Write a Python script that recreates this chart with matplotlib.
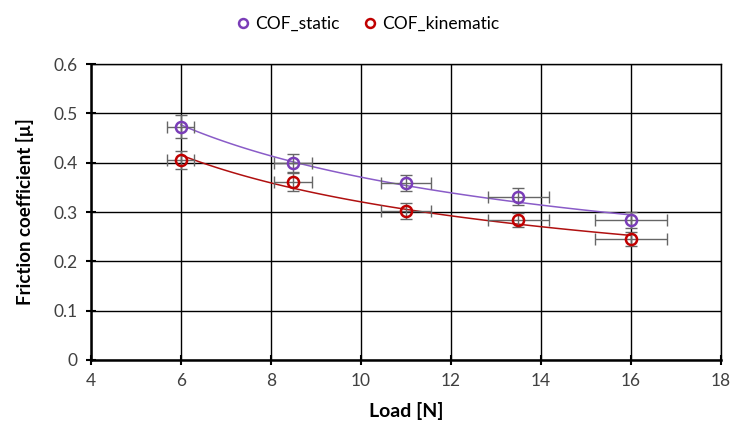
import matplotlib.pyplot as plt
import numpy as np

plt.rcParams['font.family'] = ['Lato', 'DejaVu Sans']

# Data
load = [6, 8.5, 11, 13.5, 16]
cof_static = [0.473, 0.400, 0.359, 0.331, 0.284]
cof_kinematic = [0.406, 0.361, 0.302, 0.284, 0.245]
static_yerr = [0.023, 0.018, 0.016, 0.017, 0.016]
kinematic_yerr = [0.018, 0.018, 0.016, 0.015, 0.014]
load_xerr = [0.3, 0.42, 0.55, 0.67, 0.8]

purple = '#7A3DB8'
red = '#C00000'

fig = plt.figure(figsize=(7.32, 4.28), dpi=100)
ax = fig.add_axes([0.124, 0.159, 0.861, 0.691])

# power-law trend lines, as in the original spreadsheet chart
xs = np.linspace(load[0], load[-1], 100)
for yv, col in [(cof_static, '#8A5CC8'), (cof_kinematic, '#B01010')]:
    b, a = np.polyfit(np.log(load), np.log(yv), 1)
    ax.plot(xs, np.exp(a) * xs ** b, color=col, lw=1.1, zorder=3)

ax.errorbar(load, cof_static, yerr=static_yerr, xerr=load_xerr, fmt='none',
            ecolor='#666666', elinewidth=1, capsize=4, zorder=4)
ax.errorbar(load, cof_kinematic, yerr=kinematic_yerr, xerr=load_xerr, fmt='none',
            ecolor='#666666', elinewidth=1, capsize=4, zorder=4)
ax.plot(load, cof_static, 'o', ms=8, mfc='none', mec=purple, mew=1.8,
        label='COF_static', zorder=5)
ax.plot(load, cof_kinematic, 'o', ms=8, mfc='none', mec=red, mew=1.8,
        label='COF_kinematic', zorder=5)

ax.set_xlim(4, 18)
ax.set_ylim(0, 0.6)
ax.set_xticks(range(4, 19, 2))
ax.set_yticks(np.arange(0, 0.61, 0.1))
ax.set_yticklabels(['0', '0.1', '0.2', '0.3', '0.4', '0.5', '0.6'])
ax.grid(True, color='black', lw=1)
ax.set_axisbelow(True)
for s in ax.spines.values():
    s.set_color('black')
    s.set_linewidth(1)
ax.spines['left'].set_linewidth(1.8)
ax.spines['bottom'].set_linewidth(1.8)
ax.tick_params(direction='inout', length=7, width=1.5, labelsize=12.5,
               labelcolor='#404040', pad=6)

ax.set_xlabel('Load [N]', fontsize=14, fontweight='bold', labelpad=9)
ax.set_ylabel('Friction coefficient [µ]', fontsize=13.5, fontweight='bold', labelpad=14)

fig.legend(loc='upper center', bbox_to_anchor=(0.5, 1.0), ncol=2, frameon=False,
           fontsize=12.5, handletextpad=0.1, columnspacing=1.2, handlelength=1.2,
           markerscale=0.8)

fig.savefig('out.png', dpi=100)
